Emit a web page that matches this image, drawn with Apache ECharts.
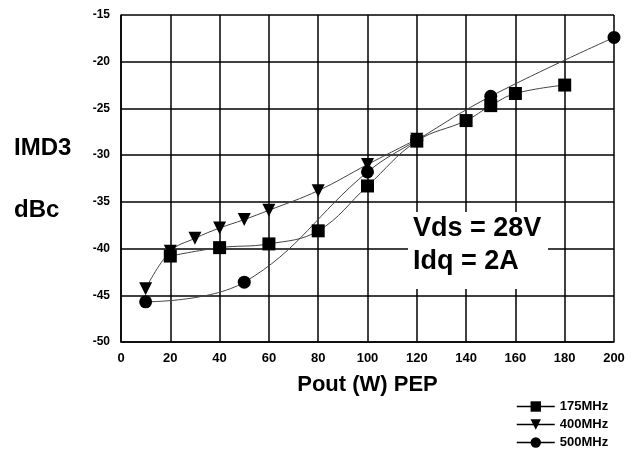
<!DOCTYPE html>
<html>
<head>
<meta charset="utf-8">
<script src="https://cdn.jsdelivr.net/npm/echarts@6/dist/echarts.min.js"></script>
<style>
  html, body { margin: 0; padding: 0; background: #fff; }
  #main { width: 639px; height: 452px; }
</style>
</head>
<body>
<div id="main"></div>
<script>
// values
const pout175 = [20, 40, 60, 80, 100, 120, 140, 150, 160, 180];
const imd175 = [-40.8, -39.9, -39.5, -38.1, -33.3, -28.5, -26.3, -24.7, -23.4, -22.5];
const pout400 = [10, 20, 30, 40, 50, 60, 80, 100, 120];
const imd400 = [-44.3, -40.3, -38.9, -37.8, -36.9, -35.9, -33.8, -31.0, -28.3];
const pout500 = [10, 50, 100, 120, 150, 200];
const imd500 = [-45.7, -43.6, -31.8, -28.4, -23.7, -17.4];

const zip = (xs, ys) => xs.map((x, i) => [x, ys[i]]);

const font = 'Liberation Sans, Arial, sans-serif';
const chart = echarts.init(document.getElementById('main'));

const lineStyle = { color: '#444', width: 1 };

chart.setOption({
    animation: false,
    backgroundColor: '#fff',
    grid: { left: 121, right: 25, top: 15, bottom: 110 },
    xAxis: {
        type: 'value',
        min: 0,
        max: 200,
        interval: 20,
        name: 'Pout (W) PEP',
        nameLocation: 'middle',
        nameGap: 32,
        nameTextStyle: { fontFamily: font, fontWeight: 'bold', fontSize: 22, color: '#000' },
        axisLine: { show: true, lineStyle: { color: '#000', width: 1.5 } },
        axisTick: { show: false },
        axisLabel: { fontFamily: font, fontWeight: 'bold', fontSize: 13, color: '#000', margin: 10 },
        splitLine: { show: true, lineStyle: { color: '#000', width: 1.5 } }
    },
    yAxis: {
        type: 'value',
        min: -50,
        max: -15,
        interval: 5,
        axisLine: { show: true, lineStyle: { color: '#000', width: 1.5 } },
        axisTick: { show: false },
        axisLabel: { fontFamily: font, fontWeight: 'bold', fontSize: 12, color: '#000', margin: 11, padding: [0, 0, 3, 0] },
        splitLine: { show: true, lineStyle: { color: '#000', width: 1.5 } }
    },
    legend: {
        orient: 'vertical',
        left: 516,
        top: 400,
        height: 52,
        padding: 0,
        itemWidth: 38,
        itemHeight: 13,
        itemGap: 5,
        textStyle: { fontFamily: font, fontWeight: 'bold', fontSize: 13, color: '#000' },
        lineStyle: { color: '#000', width: 1.5 },
        data: ['175MHz', '400MHz', '500MHz']
    },
    graphic: [
        { type: 'text', left: 14, top: 136, style: { text: 'IMD3', font: 'bold 24px ' + font, fill: '#000' } },
        { type: 'text', left: 14, top: 198, style: { text: 'dBc', font: 'bold 24px ' + font, fill: '#000' } },
        { type: 'rect', shape: { x: 408, y: 212, width: 140, height: 77 }, style: { fill: '#fff' }, z: 50 },
        { type: 'text', left: 413, top: 215, z: 51, style: { text: 'Vds = 28V', font: 'bold 27px ' + font, fill: '#000' } },
        { type: 'text', left: 413, top: 248, z: 51, style: { text: 'Idq = 2A', font: 'bold 27px ' + font, fill: '#000' } }
    ],
    series: [
        {
            name: '175MHz',
            type: 'line',
            smooth: 0.4,
            symbol: 'rect',
            symbolSize: 13,
            itemStyle: { color: '#000' },
            lineStyle: lineStyle,
            data: zip(pout175, imd175),
            z: 3
        },
        {
            name: '400MHz',
            type: 'line',
            smooth: 0.4,
            symbol: 'triangle',
            symbolRotate: 180,
            symbolSize: 13,
            itemStyle: { color: '#000' },
            lineStyle: lineStyle,
            data: zip(pout400, imd400),
            z: 2
        },
        {
            name: '500MHz',
            type: 'line',
            smooth: 0.4,
            symbol: 'circle',
            symbolSize: 13,
            itemStyle: { color: '#000' },
            lineStyle: lineStyle,
            data: zip(pout500, imd500),
            z: 2
        }
    ]
});
</script>
</body>
</html>
